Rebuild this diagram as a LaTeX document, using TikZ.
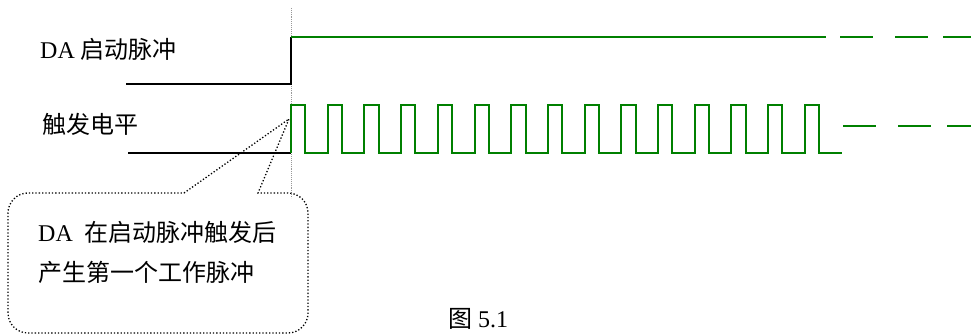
\documentclass[tikz,border=0pt]{standalone}
\usepackage{fontspec}
\setmainfont{Liberation Serif}
\newfontfamily\cjk{Noto Sans CJK SC}
\definecolor{sig}{RGB}{0,128,0}
\tikzset{
  lowline/.style={draw=black,line width=2.2pt},
  sigline/.style={draw=sig,line width=2pt},
  marker/.style={draw=gray!80,line width=0.9pt,densely dotted},
  bubble/.style={draw=black,line width=1.3pt,dotted},
  lbl/.style={anchor=west,inner sep=0pt,font=\fontsize{24}{28}\selectfont},
}
\begin{document}
\begin{tikzpicture}[x=1pt,y=1pt]
\useasboundingbox (0,0) rectangle (971,-336);
% labels
\node[lbl] (lda) at (40,-49) {DA {\cjk 启动脉冲}};
\node[lbl] (ltr) at (42,-124) {\cjk 触发电平};
% time marker
\coordinate (mtop) at (291,-8);
\coordinate (mbot) at (291,-198);
\draw[marker] (mtop) -- (mbot);
% DA start pulse
\coordinate (s0) at (126,-84);
\coordinate (s1) at (291,-84);
\coordinate (s2) at (291,-37);
\coordinate (s3) at (826,-37);
\draw[lowline] (s0) -- (s1) -- (s2);
\draw[sigline] (s2) -- (s3);
\draw[sigline] (840,-37) -- (873,-37);
\draw[sigline] (895,-37) -- (928,-37);
\draw[sigline] (943,-37) -- (971,-37);
% trigger level
\coordinate (t0) at (128,-153);
\coordinate (t1) at (291,-153);
\draw[lowline] (t0) -- (t1);
\def\p{36.7}
\draw[sigline] (t1) \foreach \i in {0,...,14} {
  -- ({291+\i*\p},-105) -- ({305.3+\i*\p},-105) -- ({305.3+\i*\p},-153) -- ({291+(\i+1)*\p},-153) };
\draw[sigline] (843,-126) -- (876,-126);
\draw[sigline] (898,-126) -- (931,-126);
\draw[sigline] (947,-126) -- (971,-126);
% callout
\coordinate (tip) at (289,-119);
\draw[bubble] (184,-193) -- (tip) -- (258,-193) -- (288,-193)
  arc[start angle=90,end angle=0,radius=20] -- (308,-313)
  arc[start angle=0,end angle=-90,radius=20] -- (28,-333)
  arc[start angle=-90,end angle=-180,radius=20] -- (8,-213)
  arc[start angle=180,end angle=90,radius=20] -- cycle;
\node[lbl] (c1) at (38,-232) {DA\ \ {\cjk 在启动脉冲触发后}};
\node[lbl] (c2) at (38,-272) {\cjk 产生第一个工作脉冲};
% caption
\node[lbl] (cap) at (448,-319) {{\cjk 图} 5.1};
\end{tikzpicture}
\end{document}
